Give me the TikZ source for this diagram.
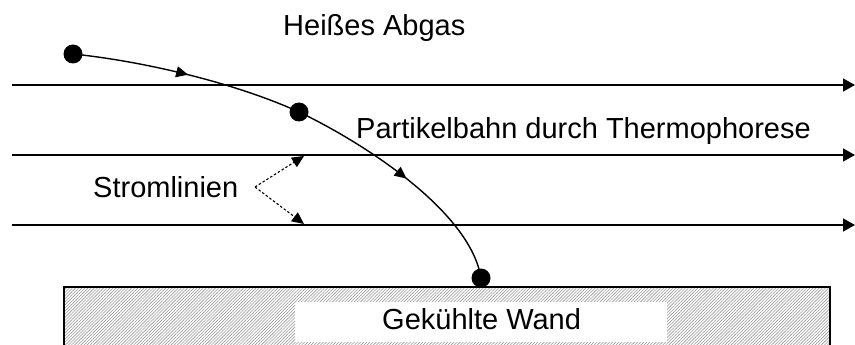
\documentclass[tikz,border=0pt]{standalone}
\usepackage{fontspec}
\setmainfont{Liberation Sans}
\usetikzlibrary{arrows.meta,decorations.markings,patterns.meta}
\begin{document}
\begin{tikzpicture}[x=1pt,y=-1pt,
  lbl/.style={anchor=base west,inner sep=0pt,font=\fontsize{29}{35}\selectfont},
  stream/.style={line width=1.4pt,-{Triangle[length=12pt,width=13pt]}},
  dot/.style={circle,fill=black,inner sep=0pt,minimum size=19pt},
  pathline/.style={line width=1.4pt,postaction={decorate},
    decoration={markings,mark=at position 0.5 with {\arrow{Triangle[length=12pt,width=11pt]}}}},
  pointer/.style={line width=1.1pt,dash pattern=on 2.5pt off 2pt,-{Triangle[length=12pt,width=11pt]}}
]
\useasboundingbox (0,0) rectangle (855,345);
% wall
\path[pattern={Lines[angle=45,distance=2.2pt,line width=0.6pt]},pattern color=gray!80] (64,287) rectangle (830,346);
\fill[white] (295,302) rectangle (667,342);
\draw[line width=1.4pt] (64,346) -- (64,287) -- (830,287) -- (830,346);
\node[lbl] (wand) at (382,329) {Gekühlte Wand};
% streamlines
\coordinate (s1a) at (12,85); \coordinate (s1b) at (855,85);
\coordinate (s2a) at (12,155); \coordinate (s2b) at (855,155);
\coordinate (s3a) at (12,225); \coordinate (s3b) at (855,225);
\draw[stream] (s1a) -- (s1b);
\draw[stream] (s2a) -- (s2b);
\draw[stream] (s3a) -- (s3b);
% particle path
\node[dot] (p1) at (73,54) {};
\node[dot] (p2) at (299,112) {};
\node[dot] (p3) at (481,278) {};
\draw[pathline] (p1.center) .. controls (150,62) and (240,85) .. (p2.center);
\draw[pathline] (p2.center) .. controls (360,141) and (470,210) .. (p3.center);
% labels
\node[lbl] (gas) at (283,36) {Heißes Abgas};
\node[lbl] (bahn) at (356,139) {Partikelbahn durch Thermophorese};
\node[lbl] (strom) at (93,197) {Stromlinien};
\coordinate (v) at (255,187);
\coordinate (t1) at (304,156);
\coordinate (t2) at (304,224);
\draw[pointer] (v) -- (t1);
\draw[pointer] (v) -- (t2);
\end{tikzpicture}
\end{document}
